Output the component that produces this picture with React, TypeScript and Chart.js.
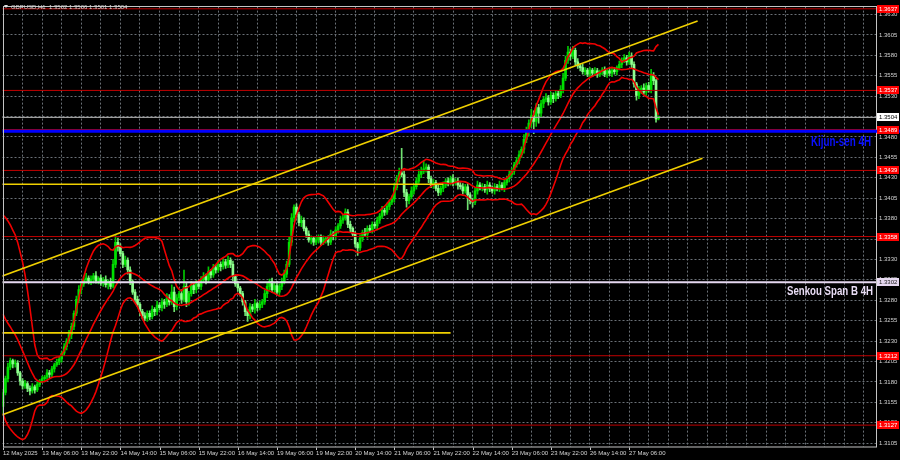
import React, { useEffect, useRef } from "react";
import { Chart, registerables } from "chart.js";

Chart.register(...registerables);

// ---------------- DATA ----------------
const chartTitle = "GBPUSD,H1  1.3502 1.3506 1.3501 1.3504";

// H1 closes before the first visible bar (needed for the 20-period bands)
const prehistoryCloses = [
  1.3305, 1.3300, 1.3298, 1.3302, 1.3296, 1.3310, 1.3318, 1.3312, 1.3315, 1.3320,
  1.3312, 1.3300, 1.3280, 1.3240, 1.3210, 1.3190, 1.3175, 1.3160, 1.3150,
];

// visible H1 closes, 12 May 14:00 .. 27 May 18:00
const closes = [
  1.3167, 1.3184, 1.3198, 1.3206, 1.3202, 1.3203, 1.3191, 1.3181, 1.3175, 1.3178,
  1.3172, 1.3169, 1.3174, 1.3170, 1.3177, 1.3181, 1.3184, 1.3186, 1.3191, 1.3189,
  1.3196, 1.3201, 1.3204, 1.3208, 1.3215, 1.3223, 1.3230, 1.3238, 1.3248, 1.3264,
  1.3281, 1.3293, 1.3300, 1.3305, 1.3307, 1.3303, 1.3306, 1.3310, 1.3304, 1.3307,
  1.3301, 1.3305, 1.3299, 1.3303, 1.3297, 1.3324, 1.3351, 1.3345, 1.3337, 1.3324,
  1.3329, 1.3317, 1.3303, 1.3290, 1.3281, 1.3275, 1.3266, 1.3261, 1.3258, 1.3264,
  1.3260, 1.3269, 1.3266, 1.3274, 1.3271, 1.3278, 1.3275, 1.3283, 1.3278, 1.3290,
  1.3272, 1.3283, 1.3288, 1.3281, 1.3297, 1.3278, 1.3288, 1.3298, 1.3293, 1.3300,
  1.3297, 1.3305, 1.3309, 1.3305, 1.3315, 1.3311, 1.3320, 1.3317, 1.3324, 1.3321,
  1.3327, 1.3323, 1.3329, 1.3324, 1.3309, 1.3300, 1.3295, 1.3288, 1.3278, 1.3266,
  1.3261, 1.3272, 1.3269, 1.3276, 1.3271, 1.3275, 1.3278, 1.3288, 1.3297, 1.3303,
  1.3293, 1.3298, 1.3290, 1.3297, 1.3303, 1.3312, 1.3324, 1.3351, 1.3381, 1.3394,
  1.3385, 1.3375, 1.3378, 1.3368, 1.3361, 1.3354, 1.3356, 1.3351, 1.3354, 1.3357,
  1.3351, 1.3355, 1.3356, 1.3351, 1.3361, 1.3358, 1.3366, 1.3371, 1.3378, 1.3381,
  1.3388, 1.3373, 1.3368, 1.3361, 1.3349, 1.3344, 1.3356, 1.3363, 1.3361, 1.3368,
  1.3366, 1.3373, 1.3371, 1.3378, 1.3383, 1.3390, 1.3388, 1.3395, 1.3400, 1.3404,
  1.3418, 1.3429, 1.3436, 1.3434, 1.3412, 1.3402, 1.3407, 1.3414, 1.3419, 1.3426,
  1.3434, 1.3438, 1.3441, 1.3443, 1.3429, 1.3421, 1.3424, 1.3417, 1.3412, 1.3417,
  1.3421, 1.3426, 1.3424, 1.3429, 1.3424, 1.3426, 1.3421, 1.3419, 1.3414, 1.3419,
  1.3409, 1.3402, 1.3400, 1.3414, 1.3421, 1.3418, 1.3419, 1.3415, 1.3421, 1.3417,
  1.3414, 1.3419, 1.3417, 1.3421, 1.3418, 1.3424, 1.3429, 1.3434, 1.3438, 1.3446,
  1.3451, 1.3458, 1.3465, 1.3477, 1.3487, 1.3497, 1.3506, 1.3499, 1.3516, 1.3509,
  1.3521, 1.3526, 1.3528, 1.3523, 1.3531, 1.3527, 1.3533, 1.3531, 1.3538, 1.3552,
  1.3574, 1.3584, 1.3579, 1.3586, 1.3572, 1.3567, 1.3565, 1.3560, 1.3562, 1.3557,
  1.3562, 1.3558, 1.3561, 1.3557, 1.3560, 1.3562, 1.3557, 1.3561, 1.3558, 1.3562,
  1.3560, 1.3565, 1.3569, 1.3574, 1.3577, 1.3572, 1.3579, 1.3569, 1.3545, 1.3531,
  1.3538, 1.3540, 1.3535, 1.3543, 1.3538, 1.3555, 1.3549, 1.3502, 1.3504,
];

// upper / lower shadow length of each candle, in pips
const wickUpPips = [
  4, 3, 5, 3, 2, 4, 3, 2, 3, 4,
  2, 3, 4, 2, 3, 2, 3, 2, 4, 3,
  3, 2, 4, 3, 2, 4, 3, 5, 4, 3,
  4, 5, 3, 4, 6, 3, 4, 3, 5, 2,
  4, 3, 5, 2, 4, 6, 9, 5, 4, 3,
  5, 3, 4, 2, 3, 4, 2, 3, 4, 3,
  3, 4, 2, 5, 3, 4, 3, 5, 4, 9,
  6, 4, 3, 5, 20, 4, 3, 5, 3, 4,
  3, 4, 5, 3, 6, 3, 4, 3, 5, 3,
  4, 3, 5, 3, 4, 2, 3, 2, 3, 2,
  3, 4, 3, 5, 2, 4, 3, 4, 5, 3,
  4, 3, 5, 3, 4, 5, 4, 6, 5, 3,
  4, 3, 5, 3, 2, 4, 3, 2, 4, 3,
  3, 4, 2, 3, 5, 3, 4, 3, 5, 3,
  4, 3, 4, 2, 3, 2, 4, 3, 5, 3,
  4, 3, 3, 4, 3, 5, 3, 4, 3, 4,
  5, 4, 6, 30, 5, 4, 3, 5, 3, 4,
  6, 5, 10, 4, 3, 3, 4, 3, 4, 3,
  4, 3, 4, 3, 5, 3, 4, 3, 4, 3,
  4, 3, 3, 4, 5, 3, 4, 3, 5, 3,
  3, 4, 3, 5, 3, 4, 3, 5, 4, 3,
  4, 5, 3, 6, 5, 4, 8, 6, 5, 4,
  4, 3, 5, 3, 4, 3, 4, 3, 5, 6,
  5, 7, 4, 5, 3, 4, 3, 4, 3, 2,
  3, 2, 4, 3, 2, 3, 4, 2, 3, 2,
  3, 2, 4, 3, 4, 3, 5, 4, 3, 2,
  4, 3, 5, 3, 4, 8, 4, 2, 2,
];
const wickDownPips = [
  9, 3, 4, 3, 5, 4, 3, 5, 4, 3,
  4, 5, 3, 4, 2, 3, 2, 4, 3, 4,
  3, 4, 2, 3, 4, 3, 4, 3, 5, 4,
  3, 4, 5, 3, 4, 3, 4, 5, 3, 4,
  3, 4, 3, 5, 3, 2, 4, 5, 3, 4,
  3, 5, 4, 3, 4, 3, 5, 4, 3, 4,
  4, 3, 5, 4, 3, 4, 5, 3, 4, 3,
  6, 4, 3, 5, 3, 6, 4, 3, 5, 4,
  3, 4, 3, 5, 3, 4, 3, 4, 3, 5,
  3, 4, 3, 4, 5, 3, 4, 3, 4, 5,
  7, 4, 3, 5, 4, 3, 4, 3, 5, 4,
  3, 4, 3, 5, 4, 3, 4, 3, 4, 5,
  3, 4, 5, 3, 4, 3, 5, 4, 3, 4,
  4, 3, 5, 4, 3, 4, 3, 4, 3, 4,
  3, 4, 5, 3, 4, 9, 3, 4, 3, 5,
  3, 4, 3, 5, 4, 3, 4, 3, 4, 3,
  4, 3, 4, 3, 5, 8, 4, 3, 4, 3,
  3, 4, 3, 4, 5, 3, 4, 3, 4, 3,
  4, 3, 4, 3, 4, 3, 5, 3, 4, 3,
  18, 4, 6, 3, 4, 3, 4, 3, 5, 4,
  3, 4, 3, 4, 3, 5, 3, 4, 3, 4,
  3, 4, 3, 5, 4, 6, 5, 15, 6, 12,
  4, 5, 3, 4, 3, 5, 3, 4, 3, 4,
  3, 4, 5, 3, 4, 3, 4, 3, 4, 3,
  3, 4, 3, 4, 3, 4, 3, 4, 3, 4,
  3, 4, 3, 4, 3, 4, 3, 5, 4, 6,
  4, 5, 3, 4, 3, 4, 5, 4, 1,
];

// time axis labels, one every 16 H1 bars starting at the first visible bar
const timeTickLabels = [
  "12 May 2025", "13 May 06:00", "13 May 22:00", "14 May 14:00", "15 May 06:00",
  "15 May 22:00", "16 May 14:00", "19 May 06:00", "19 May 22:00", "20 May 14:00",
  "21 May 06:00", "21 May 22:00", "22 May 14:00", "23 May 06:00", "23 May 22:00",
  "26 May 14:00", "27 May 06:00",
];

// price axis tick labels
const priceTicks = [
  1.3105, 1.3130, 1.3155, 1.3180, 1.3205, 1.3230, 1.3255, 1.3280, 1.3305, 1.3330, 1.3355,
  1.3380, 1.3405, 1.3430, 1.3455, 1.3480, 1.3505, 1.3530, 1.3555, 1.3580, 1.3605, 1.3630,
];

// horizontal support / resistance levels (red)
const redLevels = [1.3637, 1.3537, 1.3489, 1.3439, 1.3358, 1.3212, 1.3127];
const kijunSen4H = 1.3487;
const senkouSpanB4H = 1.3302;
const lastPrice = 1.3504;

// short horizontal yellow levels (price, last bar they reach)
const yellowLevelPrices = [1.3422, 1.3240];
const yellowLevelEndBars = [180, 183];

// ascending channel (bar index, price)
const channelUpperBars = [-1, 284];
const channelUpperPrices = [1.3309, 1.3622];
const channelLowerBars = [-1, 286];
const channelLowerPrices = [1.3139, 1.3454];

const bandPeriod = 20;
const bandDeviations = 2;

// ---------------- LAYOUT / STYLE ----------------
const PIP = 0.0001;
const X_MIN = -0.204;
const X_MAX = 356.94;
const Y_MIN = 1.31002;
const Y_MAX = 1.36397;
const FONT = "'Liberation Sans', Arial, sans-serif";
const GRID = "#6a7076";
const AXIS_TEXT = "#d4d4d4";
const YELLOW = "#f0d000";

export default function App() {
  const ref = useRef<HTMLCanvasElement>(null);

  useEffect(() => {
    document.body.style.margin = "0";
    document.body.style.background = "#000";
    const canvas = ref.current;
    if (!canvas) return;

    const opens = closes.map((c, i) =>
      i === 0 ? prehistoryCloses[prehistoryCloses.length - 1] : closes[i - 1]
    );
    const highs = closes.map((c, i) => Math.max(opens[i], c) + wickUpPips[i] * PIP);
    const lows = closes.map((c, i) => Math.min(opens[i], c) - wickDownPips[i] * PIP);

    // Bollinger bands (20, 2) from closes
    const full = [...prehistoryCloses, ...closes];
    const off = prehistoryCloses.length;
    const bbMid: { x: number; y: number }[] = [];
    const bbUp: { x: number; y: number }[] = [];
    const bbLo: { x: number; y: number }[] = [];
    closes.forEach((_, i) => {
      const end = i + off;
      const start = end - bandPeriod + 1;
      if (start < 0) return;
      const win = full.slice(start, end + 1);
      const m = win.reduce((a, b) => a + b, 0) / bandPeriod;
      const sd = Math.sqrt(win.reduce((a, b) => a + (b - m) * (b - m), 0) / bandPeriod);
      bbMid.push({ x: i, y: m });
      bbUp.push({ x: i, y: m + bandDeviations * sd });
      bbLo.push({ x: i, y: m - bandDeviations * sd });
    });

    const bull = closes.map((c, i) => c >= opens[i]);
    const bodyColors = bull.map((b) => (b ? "#00e000" : "#90ff90"));
    const wickColors = bull.map((b) => (b ? "#00c800" : "#70e070"));

    const hLine = (price: number, color: string, width: number, order: number, x0 = X_MIN - 1, x1 = X_MAX + 1) => ({
      type: "line" as const,
      data: [
        { x: x0, y: price },
        { x: x1, y: price },
      ],
      borderColor: color,
      borderWidth: width,
      pointRadius: 0,
      tension: 0,
      order,
    });

    const bandLine = (pts: { x: number; y: number }[]) => ({
      type: "line" as const,
      data: pts,
      borderColor: "#f00000",
      borderWidth: 1.6,
      pointRadius: 0,
      tension: 0,
      order: 4,
    });

    const datasets: any[] = [
      {
        type: "bar",
        data: closes.map((c, i) => ({ x: i, y: [lows[i], highs[i]] })),
        backgroundColor: wickColors,
        borderWidth: 0,
        barThickness: 1,
        grouped: false,
        order: 20,
      },
      {
        type: "bar",
        data: closes.map((c, i) => ({ x: i, y: [opens[i], c] })),
        backgroundColor: bodyColors,
        borderWidth: 0,
        barThickness: 2,
        minBarLength: 1,
        grouped: false,
        order: 19,
      },
      bandLine(bbUp),
      bandLine(bbMid),
      bandLine(bbLo),
      ...redLevels.map((p) => hLine(p, "#c00000", 1, 3)),
      hLine(lastPrice, "#b8b8b8", 1, 3),
      hLine(senkouSpanB4H, "#e6d8f0", 2, 2),
      hLine(kijunSen4H, "#0000ff", 3, 2),
      ...yellowLevelPrices.map((p, k) => hLine(p, YELLOW, 1.6, 1, X_MIN - 1, yellowLevelEndBars[k])),
      {
        type: "line",
        data: channelUpperBars.map((b, k) => ({ x: b, y: channelUpperPrices[k] })),
        borderColor: YELLOW,
        borderWidth: 1.6,
        pointRadius: 0,
        order: 1,
      },
      {
        type: "line",
        data: channelLowerBars.map((b, k) => ({ x: b, y: channelLowerPrices[k] })),
        borderColor: YELLOW,
        borderWidth: 1.6,
        pointRadius: 0,
        order: 1,
      },
    ];

    const gridBars: number[] = [];
    for (let b = 0; b <= X_MAX; b += 8) gridBars.push(b);

    const overlay = {
      id: "overlay",
      beforeDraw(chart: any) {
        const ctx = chart.ctx;
        ctx.save();
        ctx.fillStyle = "#000";
        ctx.fillRect(0, 0, chart.width, chart.height);
        ctx.restore();
      },
      afterDraw(chart: any) {
        const { ctx, chartArea: a } = chart;
        const y = chart.scales.y;
        const x = chart.scales.x;
        ctx.save();

        // frame
        ctx.strokeStyle = "#c4c4c4";
        ctx.lineWidth = 1;
        ctx.strokeRect(Math.round(a.left) + 0.5, Math.round(a.top) - 0.5, Math.round(a.right - a.left), Math.round(a.bottom - a.top) + 0.5);

        // x-axis tick marks under labelled bars
        ctx.beginPath();
        timeTickLabels.forEach((_, k) => {
          const px = Math.round(x.getPixelForValue(k * 16)) + 0.5;
          ctx.moveTo(px, a.bottom + 0.5);
          ctx.lineTo(px, a.bottom + 3);
        });
        ctx.stroke();

        // kijun line continues across the price scale
        const ky = y.getPixelForValue(kijunSen4H);
        ctx.strokeStyle = "#0000ff";
        ctx.lineWidth = 3;
        ctx.beginPath();
        ctx.moveTo(a.right, ky);
        ctx.lineTo(chart.width, ky);
        ctx.stroke();

        // price boxes on the right scale
        const box = (price: number, bg: string, fg: string) => {
          const py = Math.round(y.getPixelForValue(price));
          ctx.fillStyle = bg;
          ctx.fillRect(a.right + 1, py - 4, 22, 8);
          ctx.fillStyle = fg;
          ctx.font = `6px ${FONT}`;
          ctx.textAlign = "left";
          ctx.textBaseline = "middle";
          ctx.fillText(price.toFixed(4), a.right + 3, py + 0.5);
        };
        redLevels.forEach((p) => box(p, "#ff0000", "#ffffff"));
        box(lastPrice, "#ffffff", "#000000");
        box(senkouSpanB4H, "#e6d8f0", "#202020");

        // text objects
        ctx.textAlign = "right";
        ctx.textBaseline = "alphabetic";
        ctx.font = `bold 14px 'Liberation Sans Narrow', 'Liberation Sans', sans-serif`;
        ctx.fillStyle = "#0a10ff";
        ctx.fillText("Kijun-sen 4H", a.right - 5, ky + 14.5, 60);
        const sy = y.getPixelForValue(senkouSpanB4H);
        ctx.font = `bold 13px 'Liberation Sans Narrow', 'Liberation Sans', sans-serif`;
        ctx.fillStyle = "#e8dcf4";
        ctx.fillText("Senkou Span B 4H", a.right - 3, sy + 13, 86);

        // title
        ctx.fillStyle = "#e0e0e0";
        ctx.beginPath();
        ctx.moveTo(4, 5);
        ctx.lineTo(8, 5);
        ctx.lineTo(6, 8);
        ctx.closePath();
        ctx.fill();
        ctx.font = `6px ${FONT}`;
        ctx.textAlign = "left";
        ctx.textBaseline = "middle";
        ctx.fillStyle = "#d8d8d8";
        ctx.fillText(chartTitle, 11, 7);

        ctx.restore();
      },
    };

    const chart = new Chart(canvas, {
      type: "line",
      data: { datasets },
      plugins: [overlay],
      options: {
        responsive: false,
        animation: false,
        devicePixelRatio: 1,
        events: [],
        layout: { padding: { left: 1, top: 2, right: 0, bottom: 0 } },
        plugins: { legend: { display: false }, tooltip: { enabled: false } },
        scales: {
          x: {
            type: "linear",
            min: X_MIN,
            max: X_MAX,
            offset: false,
            afterBuildTicks: (s: any) => {
              s.ticks = gridBars.map((v) => ({ value: v }));
            },
            afterFit: (s: any) => {
              s.height = 13;
            },
            grid: { color: GRID, lineWidth: 1, drawTicks: false, offset: false },
            border: { display: false, dash: [2, 2] },
            ticks: {
              autoSkip: false,
              maxRotation: 0,
              minRotation: 0,
              align: "start",
              padding: 3,
              color: AXIS_TEXT,
              font: { size: 6, family: FONT },
              callback: (v: any) => {
                const n = Number(v);
                return n % 16 === 0 && timeTickLabels[n / 16] ? timeTickLabels[n / 16] : "";
              },
            },
          },
          y: {
            type: "linear",
            position: "right",
            min: Y_MIN,
            max: Y_MAX,
            afterBuildTicks: (s: any) => {
              s.ticks = priceTicks.map((v) => ({ value: v }));
            },
            afterFit: (s: any) => {
              s.width = 24;
            },
            grid: { color: GRID, lineWidth: 1, drawTicks: false },
            border: { display: false, dash: [2, 2] },
            ticks: {
              autoSkip: false,
              padding: 3,
              color: AXIS_TEXT,
              font: { size: 6, family: FONT },
              callback: (v: any) => Number(v).toFixed(4),
            },
          },
        },
      } as any,
    });

    return () => chart.destroy();
  }, []);

  return <canvas ref={ref} width={900} height={460} style={{ display: "block" }} />;
}
